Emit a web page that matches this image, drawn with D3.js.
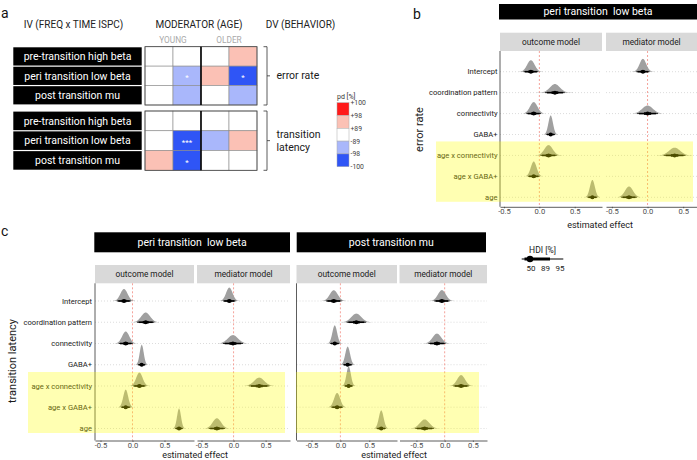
<!DOCTYPE html>
<html><head><meta charset="utf-8">
<script src="https://cdn.jsdelivr.net/npm/d3@7"></script>
<style>body{margin:0;background:#fff} text{font-family:Roboto,'Noto Sans',sans-serif}</style>
</head><body><script>
// ---------------- DATA ----------------
// panel a
const ivRows = ["pre-transition high beta","peri transition low beta","post transition mu"];
const modCols = ["young 1","young 2","older 1","older 2"];
const ageGroups = ["YOUNG","OLDER"];
const dvNames = ["error rate","transition latency"];
const headers = ["IV (FREQ x TIME ISPC)","MODERATOR (AGE)","DV (BEHAVIOR)"];
const pdErrorRate = [[0,0,0,93],[0,-93,93,-99],[0,-93,0,-93]];
const pdLatency   = [[0,0,0,0],[0,-99,-93,93],[93,-99,0,0]];
const starsErrorRate = [["","","",""],["","*","","*"],["","","",""]];
const starsLatency   = [["","","",""],["","***","",""],["","*","",""]];
const pdThresholds = [-98,-89,89,98];
const pdColors = ["#2f55f6","#a9b7fb","#ffffff","#fbc1b5","#ff1a1a"];
const pdLegendLabels = ["+100","+98","+89","-89","-98","-100"];

// panels b and c
const terms = ["Intercept","coordination pattern","connectivity","GABA+","age x connectivity","age x GABA+","age"];
const mediatorTerms = ["Intercept","connectivity","age x connectivity","age"];
const highlightTerms = ["age x connectivity","age x GABA+","age"];
const models = ["outcome model","mediator model"];
const xTicks = [-0.5, 0, 0.5];
const hdiLabels = ["50","89","95"];

// b: peri transition low beta, error rate
const bOutcomeMean = [-0.12, 0.22, -0.08, 0.16, 0.13, -0.08, 0.75];
const bOutcomeSd   = [0.053, 0.071, 0.053, 0.032, 0.059, 0.041, 0.035];
const bMediatorMean = [-0.065, 0.0, 0.38, -0.26];
const bMediatorSd   = [0.047, 0.075, 0.078, 0.056];
const bOutcomeDomain = [-0.557, 0.886];
const bMediatorDomain = [-0.583, 0.694];

// c: peri transition low beta, transition latency
const cPeriOutcomeMean = [-0.133, 0.206, -0.106, 0.144, 0.108, -0.106, 0.727];
const cPeriOutcomeSd   = [0.056, 0.069, 0.056, 0.031, 0.05, 0.038, 0.031];
const cPeriMediatorMean = [-0.066, -0.01, 0.40, -0.26];
const cPeriMediatorSd   = [0.05, 0.08, 0.08, 0.065];
const cPeriOutcomeDomain = [-0.586, 0.961];
const cPeriMediatorDomain = [-0.57, 0.88];

// c: post transition mu, transition latency
const cPostOutcomeMean = [-0.115, 0.276, -0.098, 0.126, 0.143, -0.057, 0.707];
const cPostOutcomeSd   = [0.069, 0.086, 0.041, 0.041, 0.038, 0.052, 0.041];
const cPostMediatorMean = [-0.049, -0.137, 0.291, -0.355];
const cPostMediatorSd   = [0.07, 0.077, 0.07, 0.084];
const cPostOutcomeDomain = [-0.76, 0.98];
const cPostMediatorDomain = [-0.80, 0.75];

// ---------------- DRAW ----------------
const W = 697, H = 460;
const svg = d3.select("body").append("svg").attr("width", W).attr("height", H);
const txt = (g, x, y, s, size, opts = {}) => {
  const t = g.append("text").attr("x", x).attr("y", y).attr("font-size", size)
    .attr("fill", opts.fill || "#1a1a1a").attr("text-anchor", opts.anchor || "start")
    .style("white-space", "pre").text(s);
  if (opts.rotate) t.attr("transform", `rotate(-90,${x},${y})`);
  return t;
};

// panel letters
txt(svg, 1, 17.5, "a", 14, {fill:"#111"});
txt(svg, 413, 18.5, "b", 14, {fill:"#111"});
txt(svg, 1, 236, "c", 14, {fill:"#111"});

// ----- panel a -----
const ga = svg.append("g");
txt(ga, 73.5, 28, headers[0], 10, {anchor:"middle", fill:"#222"});
txt(ga, 199, 28, headers[1], 10, {anchor:"middle", fill:"#222"});
txt(ga, 300.5, 28, headers[2], 10, {anchor:"middle", fill:"#222"});

const xCell = d3.scaleBand().domain(modCols).range([145, 257]);
const ageX = d3.scaleBand().domain(ageGroups).range([145, 257]);
ageGroups.forEach(a => txt(ga, ageX(a) + ageX.bandwidth()/2, 42.5, a, 8.3, {anchor:"middle", fill:"#aaaaaa"}));
const pdColor = d3.scaleThreshold().domain(pdThresholds).range(pdColors);

const blocks = [
  {pd: pdErrorRate, stars: starsErrorRate, range: [46.7, 105], dv: dvNames[0]},
  {pd: pdLatency, stars: starsLatency, range: [111, 170.3], dv: dvNames[1]}
];
blocks.forEach(b => {
  const yRow = d3.scaleBand().domain(ivRows).range(b.range);
  ivRows.forEach((r, i) => {
    ga.append("rect").attr("x", 13.3).attr("y", yRow(r) + 0.6).attr("width", 128.4)
      .attr("height", yRow.bandwidth() - 1.2).attr("fill", "#000");
    txt(ga, 77.5, yRow(r) + yRow.bandwidth()/2 + 3.7, r, 10.5, {anchor:"middle", fill:"#fff"});
    modCols.forEach((c, j) => {
      ga.append("rect").attr("x", xCell(c)).attr("y", yRow(r)).attr("width", xCell.bandwidth())
        .attr("height", yRow.bandwidth()).attr("fill", pdColor(b.pd[i][j]))
        .attr("stroke", "#8a8a8a").attr("stroke-width", 0.6);
      if (b.stars[i][j]) txt(ga, xCell(c) + xCell.bandwidth()/2, yRow(r) + yRow.bandwidth()/2 + 4.5,
        b.stars[i][j], 8, {anchor:"middle", fill:"#fff"});
    });
  });
  ga.append("rect").attr("x", 145).attr("y", b.range[0]).attr("width", 112).attr("height", b.range[1]-b.range[0])
    .attr("fill", "none").attr("stroke", "#444").attr("stroke-width", 0.8);
  ga.append("line").attr("x1", 201).attr("x2", 201).attr("y1", b.range[0]).attr("y2", b.range[1])
    .attr("stroke", "#000").attr("stroke-width", 1.6);
  const mid = (b.range[0] + b.range[1]) / 2;
  ga.append("path").attr("d", `M263.5,${b.range[0]}H267V${b.range[1]}H263.5M267,${mid}H270`)
    .attr("fill", "none").attr("stroke", "#333").attr("stroke-width", 0.8);
  const words = b.dv === "transition latency" ? ["transition","latency"] : [b.dv];
  words.forEach((w, k) => txt(ga, 276.5, mid + 3.6 - (words.length-1)*6.7 + k*13.4, w, 10.5, {fill:"#1a1a1a"}));
});

// pd legend
txt(ga, 337, 98.5, "pd [%]", 7, {fill:"#333"});
const legStep = 12.8;
pdColors.slice().reverse().forEach((c, i) => {
  ga.append("rect").attr("x", 337).attr("y", 102.7 + i*legStep).attr("width", 12).attr("height", legStep)
    .attr("fill", c).attr("stroke", "#aaa").attr("stroke-width", 0.5);
});
pdLegendLabels.forEach((l, i) => txt(ga, 350.5, 102.7 + i*legStep + 2.4, l, 6.8, {fill:"#444"}));

// ----- forest plots -----
const K = 43;
function forest(o) {
  const g = svg.append("g");
  const y = d3.scalePoint().domain(terms).range(o.rows);
  g.append("rect").attr("x", o.title[0]).attr("y", o.titleY[0]).attr("width", o.title[1]-o.title[0])
    .attr("height", o.titleY[1]-o.titleY[0]).attr("fill", "#000");
  txt(g, (o.title[0]+o.title[1])/2, o.titleBase, o.titleText, 10.5, {anchor:"middle", fill:"#fff"});
  o.panels.forEach((p, pi) => {
    const x = d3.scaleLinear().domain(p.domain).range([p.x0, p.x1]);
    const ppu = (p.x1 - p.x0) / (p.domain[1] - p.domain[0]);
    g.append("rect").attr("x", p.x0).attr("y", o.strip[0]).attr("width", p.x1 - p.x0)
      .attr("height", o.strip[1] - o.strip[0]).attr("fill", "#d9d9d9");
    txt(g, (p.x0 + p.x1)/2, (o.strip[0]+o.strip[1])/2 + 3, models[pi], 8.3, {anchor:"middle", fill:"#1a1a1a"});
    terms.forEach(t => g.append("line").attr("x1", p.x0).attr("x2", p.x1).attr("y1", y(t)).attr("y2", y(t))
      .attr("stroke", "#c4c4c4").attr("stroke-width", 0.6).attr("stroke-dasharray", "1,2"));
    g.append("line").attr("x1", x(0)).attr("x2", x(0)).attr("y1", o.strip[1]).attr("y2", o.axisY)
      .attr("stroke", "#f28b82").attr("stroke-width", 0.8).attr("stroke-dasharray", "2,2");
    p.terms.forEach((t, j) => {
      const m = p.mean[j], s = p.sd[j], y0 = y(t);
      const h = Math.min(20, K / (s * ppu));
      const pts = d3.range(-3.6, 3.6001, 0.1).map(z => [m + z*s, Math.exp(-0.5*z*z)]);
      g.append("path").datum(pts)
        .attr("d", d3.area().x(d => x(d[0])).y0(y0).y1(d => y0 - h*d[1]))
        .attr("fill", "#a0a0a0");
      [[1.96, 0.8], [1.6, 1.6], [0.67, 2.6]].forEach(([z, lw]) =>
        g.append("line").attr("x1", x(m - z*s)).attr("x2", x(m + z*s)).attr("y1", y0).attr("y2", y0)
          .attr("stroke", "#000").attr("stroke-width", lw));
      g.append("circle").attr("cx", x(m)).attr("cy", y0).attr("r", 2).attr("fill", "#000");
    });
    const ax = g.append("g").attr("transform", `translate(0,${o.axisY})`)
      .call(d3.axisBottom(x).tickValues(xTicks).tickFormat(d => d.toFixed(1)).tickSize(1.5).tickSizeOuter(0).tickPadding(0.8));
    ax.select(".domain").attr("stroke", "#333").attr("stroke-width", 0.8);
    ax.selectAll(".tick line").attr("stroke", "#333").attr("stroke-width", 0.6);
    ax.selectAll(".tick text").attr("font-size", 7.6).attr("fill", "#4d4d4d")
      .attr("font-family", "Roboto,'Noto Sans',sans-serif");
    if (pi === 0) g.append("line").attr("x1", p.x0).attr("x2", p.x0).attr("y1", o.strip[1]).attr("y2", o.axisY)
      .attr("stroke", "#333").attr("stroke-width", 0.8);
  });
  if (o.labelX) terms.forEach(t => txt(g, o.labelX, y(t) + 2.7, t, 7.6, {anchor:"end", fill:"#1a1a1a"}));
  txt(g, o.xTitle[0], o.xTitle[1], "estimated effect", 9, {anchor:"middle", fill:"#1a1a1a"});
  // highlight for age-related terms
  g.append("rect").attr("x", o.hl[0]).attr("width", o.hl[1] - o.hl[0])
    .attr("y", y(highlightTerms[0]) - 14).attr("height", y(highlightTerms[2]) + 4.5 - (y(highlightTerms[0]) - 14))
    .attr("fill", "#ffff00").attr("opacity", 0.3);
}

forest({
  titleText: "peri transition  low beta", title: [499, 697], titleY: [4, 19.5], titleBase: 15,
  strip: [32.7, 51], axisY: 206.8, rows: [71.7, 197.3], labelX: 497.5, xTitle: [600, 227.5], hl: [436, 693],
  panels: [
    {x0: 500, x1: 602, domain: bOutcomeDomain, terms: terms, mean: bOutcomeMean, sd: bOutcomeSd},
    {x0: 606, x1: 697, domain: bMediatorDomain, terms: mediatorTerms, mean: bMediatorMean, sd: bMediatorSd}
  ]
});
txt(svg, 422.5, 129.5, dvNames[0], 11, {anchor:"middle", fill:"#1a1a1a", rotate:true});

forest({
  titleText: "peri transition  low beta", title: [94.3, 290], titleY: [232.3, 252.3], titleBase: 246.3,
  strip: [265, 283.3], axisY: 440.5, rows: [301, 428.5], labelX: 92, xTitle: [195, 457.6], hl: [28, 285],
  panels: [
    {x0: 95, x1: 194, domain: cPeriOutcomeDomain, terms: terms, mean: cPeriOutcomeMean, sd: cPeriOutcomeSd},
    {x0: 197, x1: 290, domain: cPeriMediatorDomain, terms: mediatorTerms, mean: cPeriMediatorMean, sd: cPeriMediatorSd}
  ]
});
forest({
  titleText: "post transition mu", title: [296.7, 486], titleY: [232.3, 252.3], titleBase: 246.3,
  strip: [265, 283.3], axisY: 440.5, rows: [301, 428.5], labelX: null, xTitle: [394, 457.6], hl: [296, 479],
  panels: [
    {x0: 296.5, x1: 397, domain: cPostOutcomeDomain, terms: terms, mean: cPostOutcomeMean, sd: cPostOutcomeSd},
    {x0: 399.5, x1: 487, domain: cPostMediatorDomain, terms: mediatorTerms, mean: cPostMediatorMean, sd: cPostMediatorSd}
  ]
});
txt(svg, 16, 361, dvNames[1], 11, {anchor:"middle", fill:"#1a1a1a", rotate:true});

// HDI legend
const gl = svg.append("g");
txt(gl, 542.5, 252.5, "HDI [%]", 8.5, {anchor:"middle", fill:"#1a1a1a"});
gl.append("line").attr("x1", 521.7).attr("x2", 563.3).attr("y1", 259).attr("y2", 259).attr("stroke", "#000").attr("stroke-width", 1.1);
gl.append("line").attr("x1", 524.5).attr("x2", 550).attr("y1", 259).attr("y2", 259).attr("stroke", "#000").attr("stroke-width", 3);
gl.append("circle").attr("cx", 530).attr("cy", 259).attr("r", 3.3).attr("fill", "#000");
const hdiX = d3.scalePoint().domain(hdiLabels).range([531, 560]);
hdiLabels.forEach(l => txt(gl, hdiX(l), 271, l, 8, {anchor:"middle", fill:"#1a1a1a"}));
</script></body></html>
